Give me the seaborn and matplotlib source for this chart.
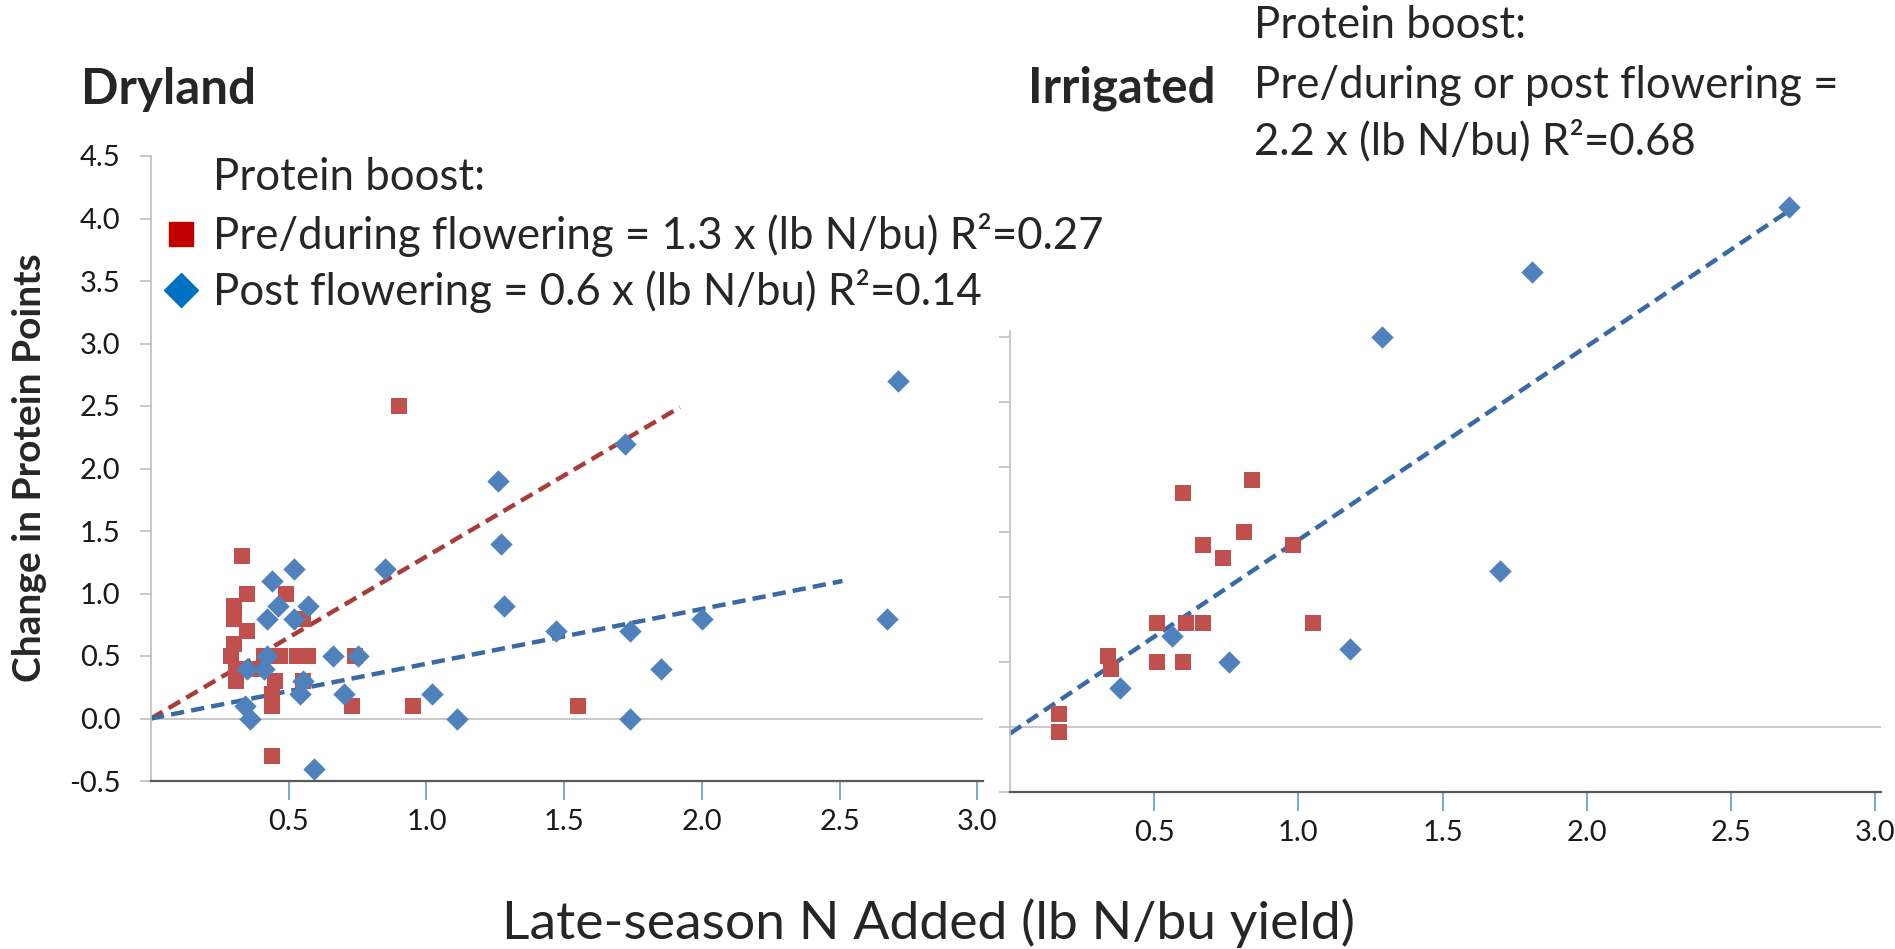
import matplotlib
matplotlib.use('Agg')
import matplotlib.pyplot as plt
from matplotlib.lines import Line2D
import numpy as np
import pandas as pd
import seaborn as sns

# Dryland, pre/during flowering (red squares)
dry_pre_x = [0.33, 0.35, 0.49, 0.30, 0.30, 0.55, 0.35, 0.30, 0.29, 0.41, 0.47, 0.53, 0.57,
             0.74, 0.31, 0.38, 0.31, 0.45, 0.55, 0.44, 0.44, 0.73, 0.44, 0.90, 0.95, 1.55]
dry_pre_y = [1.3, 1.0, 1.0, 0.9, 0.8, 0.8, 0.7, 0.6, 0.5, 0.5, 0.5, 0.5, 0.5,
             0.5, 0.4, 0.4, 0.3, 0.3, 0.3, 0.2, 0.1, 0.1, -0.3, 2.5, 0.1, 0.1]

# Dryland, post flowering (blue diamonds)
dry_post_x = [0.52, 0.44, 0.46, 0.57, 0.42, 0.52, 0.42, 0.66, 0.75, 0.35, 0.41, 0.55, 0.54,
              0.70, 0.34, 0.36, 0.59, 0.85, 1.26, 1.27, 1.28, 1.02, 1.11, 1.47, 1.72,
              1.74, 1.74, 1.85, 2.00, 2.67, 2.71]
dry_post_y = [1.2, 1.1, 0.9, 0.9, 0.8, 0.8, 0.5, 0.5, 0.5, 0.4, 0.4, 0.3, 0.2,
              0.2, 0.1, 0.0, -0.4, 1.2, 1.9, 1.4, 0.9, 0.2, 0.0, 0.7, 2.2,
              0.7, 0.0, 0.4, 0.8, 0.8, 2.7]

# Irrigated
irr_pre_x = [0.17, 0.17, 0.34, 0.35, 0.51, 0.51, 0.61, 0.60, 0.67, 0.60, 0.67, 0.74, 0.81, 0.84, 0.98, 1.05]
irr_pre_y = [0.1, -0.04, 0.55, 0.45, 0.8, 0.5, 0.8, 0.5, 0.8, 1.8, 1.4, 1.3, 1.5, 1.9, 1.4, 0.8]
irr_post_x = [0.38, 0.56, 0.76, 1.18, 1.70, 1.29, 1.81, 2.70]
irr_post_y = [0.3, 0.7, 0.5, 0.6, 1.2, 3.0, 3.5, 4.0]

# trend line end points
dry_pre_fit_x = [0.0, 1.92]
dry_pre_fit_y = [0.0, 2.49]
dry_post_fit_x = [0.0, 2.51]
dry_post_fit_y = [0.0, 1.10]
irr_fit_x = [0.0, 2.70]
irr_fit_y = [-0.05, 3.97]

x_ticks = [0.5, 1.0, 1.5, 2.0, 2.5, 3.0]
y_ticks = [-0.5, 0.0, 0.5, 1.0, 1.5, 2.0, 2.5, 3.0, 3.5, 4.0, 4.5]

RED = '#C0504D'
BLUE = '#4F81BD'
RED_LINE = '#A83C39'
BLUE_LINE = '#3A6AA3'
FONT = 'Lato'
TXT = 31.5

sns.set_theme(style='white')
plt.rcParams['font.family'] = [FONT, 'DejaVu Sans']

W, H = 1895, 949
fig = plt.figure(figsize=(W / 100, H / 100), dpi=100)


def fx(px):
    return px / W


def fy(py):
    return 1 - py / H


def style_axis(ax):
    for s in ['top', 'right']:
        ax.spines[s].set_visible(False)
    ax.spines['left'].set_color('#BFBFBF')
    ax.spines['left'].set_linewidth(1.2)
    ax.spines['bottom'].set_color('#595959')
    ax.spines['bottom'].set_linewidth(1.6)
    ax.axhline(0, color='#BFBFBF', lw=1.2, zorder=0)
    ax.set_xticks(x_ticks)
    ax.set_xticklabels([f'{v:.1f}' for v in x_ticks])
    ax.tick_params(axis='x', length=14, width=1.2, color='#5B9BD5', pad=6,
                   labelsize=21, labelcolor='#1a1a1a', bottom=True)
    ax.tick_params(axis='y', length=8, width=1.2, color='#BFBFBF', pad=14,
                   labelsize=21, labelcolor='#1a1a1a', left=True)
    ax.set_xlabel('')
    ax.set_ylabel('')
    ax.grid(False)


def draw_points(ax, px, py, color, marker, size):
    df = pd.DataFrame({'x': px, 'y': py})
    sns.scatterplot(data=df, x='x', y='y', ax=ax, color=color, marker=marker,
                    s=size, linewidth=0, zorder=3, clip_on=False)


def draw_fit(ax, px, py, color):
    df = pd.DataFrame({'x': px, 'y': py})
    sns.lineplot(data=df, x='x', y='y', ax=ax, color=color, lw=3.2,
                 linestyle=(0, (3, 1.6)), zorder=2)


# Dryland panel
ax1 = fig.add_axes([fx(151), fy(781), fx(983) - fx(151), fy(156) - fy(781)])
draw_fit(ax1, dry_pre_fit_x, dry_pre_fit_y, RED_LINE)
draw_fit(ax1, dry_post_fit_x, dry_post_fit_y, BLUE_LINE)
draw_points(ax1, dry_pre_x, dry_pre_y, RED, 's', 120)
draw_points(ax1, dry_post_x, dry_post_y, BLUE, 'D', 130)
ax1.set_xlim(0, 3.02)
ax1.set_ylim(-0.5, 4.5)
ax1.set_yticks(y_ticks)
ax1.set_yticklabels([f'{v:.1f}' for v in y_ticks])
style_axis(ax1)

# Irrigated panel
ax2 = fig.add_axes([fx(1010), fy(792), fx(1881) - fx(1010), fy(181) - fy(792)])
draw_fit(ax2, irr_fit_x, irr_fit_y, BLUE_LINE)
draw_points(ax2, irr_pre_x, irr_pre_y, RED, 's', 120)
draw_points(ax2, irr_post_x, irr_post_y, BLUE, 'D', 130)
ax2.set_xlim(0, 3.02)
ax2.set_ylim(-0.5, 4.2)
ax2.set_yticks(y_ticks[:-3])
ax2.set_yticklabels([])
style_axis(ax2)
ax2.spines['left'].set_bounds(-0.5, 3.05)

# legend for the dryland panel
handles = [
    Line2D([], [], ls='', marker='s', ms=17, color='#C00000'),
    Line2D([], [], ls='', marker='D', ms=17, color='#0070C0'),
]
labels = ['Pre/during flowering = 1.3 x (lb N/bu) R²=0.27',
          'Post flowering = 0.6 x (lb N/bu) R²=0.14']
fig.legend(handles, labels, loc='upper left', bbox_to_anchor=(fx(159), fy(213)),
           frameon=False, fontsize=TXT, handlelength=1.0, handletextpad=0.23,
           labelspacing=0.28, borderpad=0, borderaxespad=0)
fig.text(fx(213), fy(177), 'Protein boost:', fontsize=TXT, va='center', ha='left')

fig.text(fx(81), fy(90), 'Dryland', fontsize=35.5, fontweight='bold', va='center', ha='left')
fig.text(fx(1028), fy(88), 'Irrigated', fontsize=35.5, fontweight='bold', va='center', ha='left')

fig.text(fx(1254), fy(26), 'Protein boost:', fontsize=TXT, va='center', ha='left')
fig.text(fx(1254), fy(85), 'Pre/during or post flowering =', fontsize=TXT, va='center', ha='left')
fig.text(fx(1254), fy(141), '2.2 x (lb N/bu) R²=0.68', fontsize=TXT, va='center', ha='left')

fig.text(fx(30), fy(468), 'Change in Protein Points', fontsize=28, fontweight='bold',
         rotation=90, va='center', ha='center')
fig.text(fx(929), fy(923), 'Late-season N Added (lb N/bu yield)', fontsize=38.5,
         va='center', ha='center')

fig.savefig('out.png', dpi=100)
